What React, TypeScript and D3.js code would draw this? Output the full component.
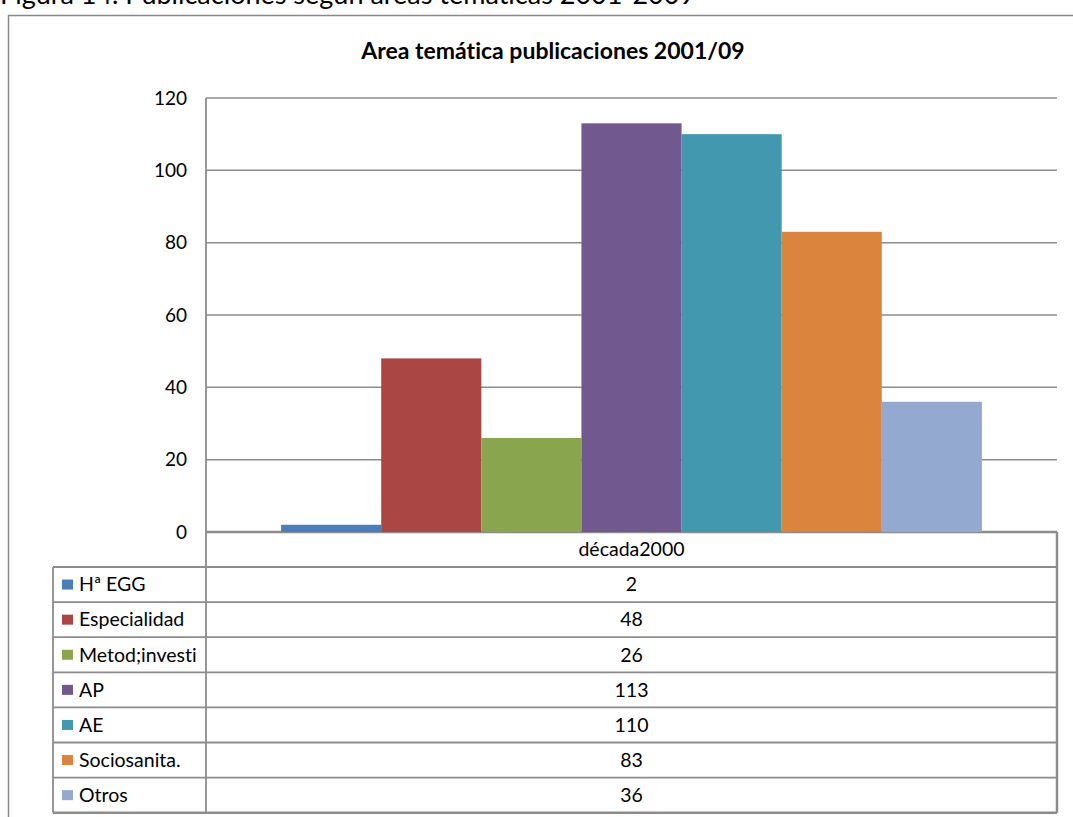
import React from "react";
import * as d3 from "d3";

const caption = "Figura 14. Publicaciones según áreas temáticas 2001-2009";
const chartTitle = "Area temática publicaciones 2001/09";
const category = "década2000";
const seriesNames = ["Hª EGG", "Especialidad", "Metod;investi", "AP", "AE", "Sociosanita.", "Otros"];
const seriesValues = [2, 48, 26, 113, 110, 83, 36];
const seriesColors = ["#4A7EBB", "#AA4643", "#89A54E", "#71588F", "#4198AF", "#DB843D", "#93A9CF"];
const yTicks = [0, 20, 40, 60, 80, 100, 120];

const W = 1073;
const H = 817;
const plotLeft = 206;
const plotRight = 1057;
const plotTop = 98;
const plotBottom = 532;
const tableLeft = 53;
const headerH = 35;
const rowH = 35.1;
const FONT = "Lato, Carlito, Calibri, 'Open Sans', sans-serif";
const GRID = "#8c8c8c";

export default function App() {
  const y = d3.scaleLinear().domain([0, 120]).range([plotBottom, plotTop]);
  const x = d3
    .scaleBand<string>()
    .domain(seriesNames)
    .range([plotLeft, plotRight])
    .paddingInner(0)
    .paddingOuter(0.75);

  const tableTop = plotBottom;
  const rowsTop = tableTop + headerH;
  const tableBottom = rowsTop + rowH * seriesNames.length;
  const midX = (plotLeft + plotRight) / 2;

  return (
    <svg
      width={W}
      height={H}
      style={{ position: "absolute", left: 0, top: 0, background: "#fff", fontVariantLigatures: "none" }}
      fontFamily={FONT}
    >
      <rect x={0} y={0} width={W} height={H} fill="#fff" />
      <text x={0} y={4} fontSize={27} fill="#000">
        {caption}
      </text>
      {/* outer chart border */}
      <rect x={8.5} y={15.5} width={W + 20} height={H + 20} fill="none" stroke="#888" strokeWidth={1.5} />

      <text x={553} y={59} textAnchor="middle" fontSize={23} fontWeight="bold" fill="#000">
        {chartTitle}
      </text>

      {/* gridlines */}
      {yTicks.map((t) => (
        <g key={t}>
          <line x1={plotLeft} x2={plotRight} y1={y(t)} y2={y(t)} stroke={GRID} strokeWidth={t === 0 ? 2.5 : 1.5} />
          <text x={187} y={y(t)} dy="0.35em" textAnchor="end" fontSize={19} fill="#000">
            {t}
          </text>
        </g>
      ))}

      {/* bars */}
      {seriesNames.map((s, i) => (
        <rect
          key={s}
          x={x(s)!}
          y={y(seriesValues[i])}
          width={x.bandwidth()}
          height={y(0) - y(seriesValues[i])}
          fill={seriesColors[i]}
        />
      ))}

      {/* table */}
      <g stroke={GRID} strokeWidth={1.8} fill="none">
        <line x1={plotLeft} x2={plotLeft} y1={plotTop} y2={tableBottom} />
        <line x1={plotRight} x2={plotRight} y1={tableTop} y2={tableBottom} strokeWidth={2.5} />
        <line x1={tableLeft} x2={tableLeft} y1={rowsTop} y2={tableBottom} />
        {seriesNames.map((s, i) => (
          <line key={s} x1={tableLeft} x2={plotRight} y1={rowsTop + rowH * i} y2={rowsTop + rowH * i} />
        ))}
        <line x1={tableLeft} x2={plotRight} y1={tableBottom} y2={tableBottom} strokeWidth={2.5} />
      </g>
      <text x={midX} y={tableTop + headerH / 2} dy="0.35em" textAnchor="middle" fontSize={19.5} fill="#000">
        {category}
      </text>
      {seriesNames.map((s, i) => {
        const cy = rowsTop + rowH * i + rowH / 2;
        return (
          <g key={s}>
            <rect x={62} y={cy - 5} width={11} height={10} fill={seriesColors[i]} />
            <text x={79} y={cy} dy="0.35em" fontSize={19.5} fill="#000">
              {s}
            </text>
            <text x={midX} y={cy} dy="0.35em" textAnchor="middle" fontSize={19.5} fill="#000">
              {seriesValues[i]}
            </text>
          </g>
        );
      })}
    </svg>
  );
}
